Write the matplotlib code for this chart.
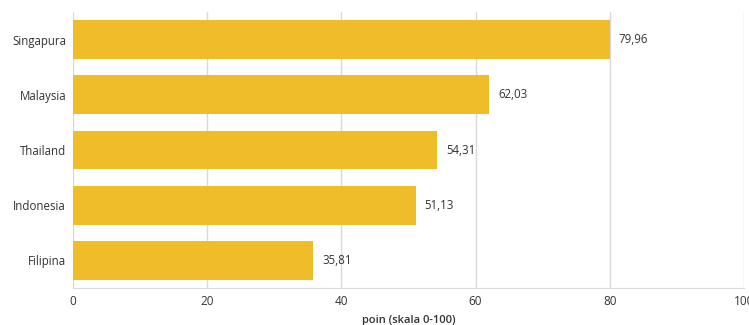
import matplotlib.pyplot as plt

# data
countries = ['Singapura', 'Malaysia', 'Thailand', 'Indonesia', 'Filipina']
scores = [79.96, 62.03, 54.31, 51.13, 35.81]
ticks = [0, 20, 40, 60, 80, 100]

plt.rcParams['font.family'] = ['Open Sans', 'DejaVu Sans']

fig = plt.figure(figsize=(7.49, 3.25), dpi=100)
ax = fig.add_axes([73 / 749, 1 - 288 / 325, (744 - 73) / 749, 276 / 325])

ypos = list(range(len(countries)))
ax.barh(ypos, scores, height=0.7, color='#EFBC2A', zorder=2)
ax.set_ylim(len(countries) - 0.5, -0.5)
ax.set_yticks(ypos)
ax.set_yticklabels(countries)
ax.set_xlim(0, 100)
ax.set_xticks(ticks)

for y, v in zip(ypos, scores):
    ax.text(v + 1.3, y, f'{v:.2f}'.replace('.', ','), va='center', ha='left',
            fontsize=8.3, color='#333333')

ax.grid(axis='x', color='#d9d9d9', linewidth=1, zorder=0)
for s in ['top', 'right', 'left']:
    ax.spines[s].set_visible(False)
ax.spines['bottom'].set_color('#d9d9d9')
ax.tick_params(axis='y', length=0, labelsize=8.3, colors='#333333', pad=5)
ax.tick_params(axis='x', length=0, labelsize=8.5, colors='#333333', pad=5)
ax.set_xlabel('poin (skala 0-100)', fontsize=8, color='#333333',
              fontweight='semibold', labelpad=5)

fig.savefig('out.png', dpi=100)
